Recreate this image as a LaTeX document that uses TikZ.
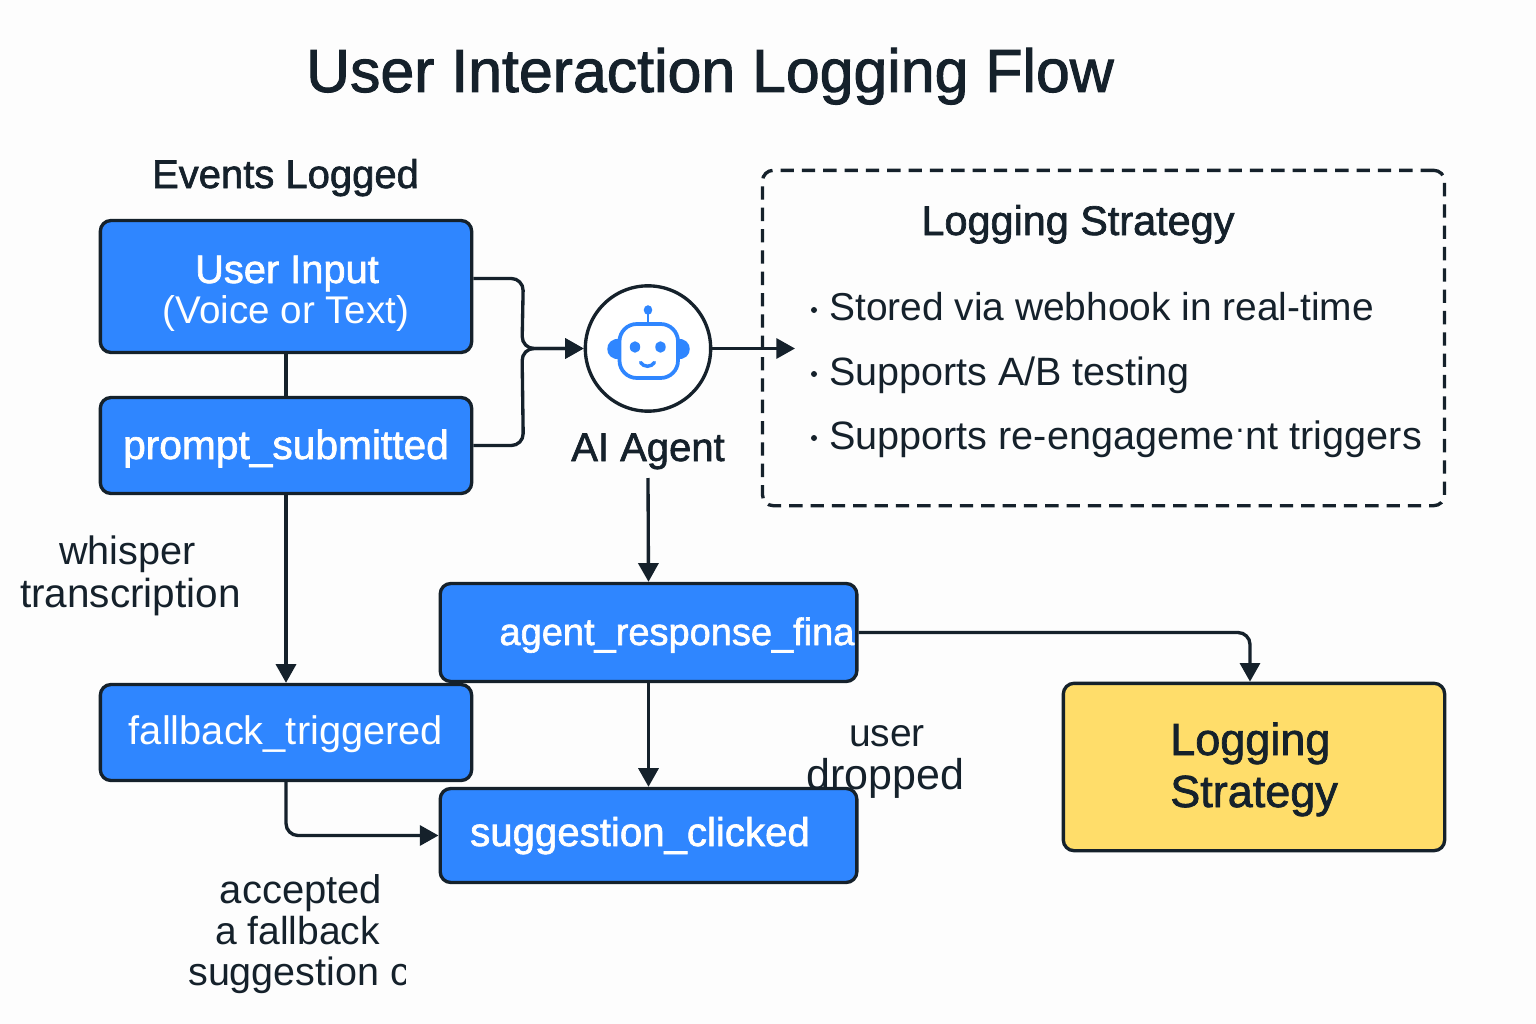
\documentclass[tikz,border=0pt]{standalone}
\usepackage{fontspec}
\setmainfont{Liberation Sans}
\newfontfamily\medfont[FakeBold=1.6]{Liberation Sans}
\usetikzlibrary{arrows.meta,calc,shapes.geometric}
\definecolor{ink}{HTML}{15212B}
\definecolor{boxblue}{HTML}{2F86FF}
\definecolor{boxyellow}{HTML}{FFDD6A}
\definecolor{paper}{HTML}{FDFDFD}
\newcommand{\fs}[1]{\fontsize{\dimexpr#1pt*3/4\relax}{\dimexpr#1pt*3/4\relax}\selectfont}
\tikzset{
  x=0.75pt,y=-0.75pt,
  link/.style={draw=ink,line width=2.5pt,rounded corners=9pt},
  tip/.style={-{Triangle[length=14pt,width=15pt]}},
  bluebox/.style={draw=ink,line width=2.5pt,fill=boxblue,rounded corners=8pt,inner sep=0pt},
  yellowbox/.style={draw=ink,line width=2.5pt,fill=boxyellow,rounded corners=8pt,inner sep=0pt},
  txt/.style={inner sep=0pt,text=ink,anchor=base},
  wtxt/.style={inner sep=0pt,text=white,anchor=base},
  icon/.style={draw=boxblue,line width=2.8pt},
}
\begin{document}
\begin{tikzpicture}
\useasboundingbox (0,0) rectangle (1536,1024);
\fill[paper] (0,0) rectangle (1536,1024);

\node[txt,anchor=base] (title) at (710,92) {\medfont\fs{60.8}User Interaction Logging Flow};
\node[txt] (eventshead) at (285.5,188) {\medfont\fs{40}Events Logged};

% dashed panel
\node[draw=ink,line width=2.5pt,dash pattern=on 10pt off 6pt,rounded corners=8pt,minimum width=511.5pt,minimum height=251.5pt,inner sep=0pt] (panel) at (1103.5,338) {};
\node[txt] (panelhead) at (1078,235) {\medfont\fs{41.4}Logging Strategy};
\node[txt,anchor=base west] (s1) at (829,320) {\fs{38.9}Stored via webhook in real-time};
\node[txt,anchor=base west] (s2) at (829,385) {\fs{39.5}Supports A/B testing};
\node[txt,anchor=base west] (s3) at (829,449) {\fs{39.6}Supports re-engageme\kern1pt\raisebox{0.42em}{\scalebox{0.8}{.}}\kern1pt nt triggers};
\foreach \yy/\nm in {310/d1,374/d2,438/d3}{\node[circle,fill=ink,inner sep=0pt,minimum size=4.5pt] (\nm) at (814,\yy) {};}

% free ends and junction
\coordinate (join) at (522,348.5);
\coordinate (panelpoint) at (795,348.5);

% boxes
\node[bluebox,minimum width=278.5pt,minimum height=99pt] (input) at (286,286.5) {};
\node[wtxt] (inputa) at (287,283) {\medfont\fs{39.8}User Input};
\node[wtxt] (inputb) at (286,323) {\fs{38.6}(Voice or Text)};
\node[bluebox,minimum width=278.5pt,minimum height=72pt] (prompt) at (286,445.5) {};
\node[wtxt] (prompttxt) at (286,459) {\medfont\fs{40.7}prompt\_submitted};
\node[bluebox,minimum width=278.5pt,minimum height=72pt] (fallback) at (286,732.5) {};
\node[wtxt] (fallbacktxt) at (286,744) {\fs{39.8}fallback\_triggered};
\node[bluebox,minimum width=312.5pt,minimum height=73.5pt] (final) at (648.5,632.5) {};
\node[wtxt] (finaltxt) at (677,645) {\medfont\fs{38}agent\_response\_fina};
\node[bluebox,minimum width=312.5pt,minimum height=70.5pt] (clicked) at (648.5,835.5) {};
\node[wtxt] (clickedtxt) at (640,846) {\medfont\fs{40.2}suggestion\_clicked};
\node[yellowbox,minimum width=286pt,minimum height=125.5pt] (yellow) at (1254,767) {};
\node[txt,anchor=base west] (y1) at (1170,755) {\medfont\fs{45}Logging};
\node[txt,anchor=base west] (y2) at (1170,807) {\medfont\fs{45}Strategy};

% agent
\node[circle,draw=ink,line width=2.5pt,fill=white,minimum size=94pt,inner sep=0pt] (agent) at (648,348.5) {};
\node[txt] (agentlabel) at (648,461) {\medfont\fs{40}AI Agent};
\coordinate (agentout) at (648,478);

% robot icon
\fill[boxblue] (620,339) .. controls (603,337) and (603,361) .. (620,359) -- cycle;
\fill[boxblue] (677,339) .. controls (694,337) and (694,361) .. (677,359) -- cycle;
\draw[icon,fill=white,rounded corners=13pt] (619.5,324) rectangle (678,378);
\draw[icon,line width=2.2pt] (648,323) -- (648,312);
\fill[boxblue] (648,310) ellipse[x radius=3.2pt,y radius=3.6pt];
\fill[boxblue] (635,347) ellipse[x radius=3.9pt,y radius=4.3pt];
\fill[boxblue] (660.5,347) ellipse[x radius=3.9pt,y radius=4.3pt];
\draw[icon,line width=2.6pt,line cap=round] (640.5,362.5) .. controls (644,367.5) and (651,367.5) .. (654.5,362.5);

% connectors
\draw[link,tip] ([yshift=6pt]input.east) -- ++(50,0) -- (join) -- (agent.west);
\draw[link,tip] (prompt.east) -- ++(50,0) -- (join) -- (agent.west);
\draw[link,tip] (agent.east) -- (panelpoint);
\draw[link] (input.south) -- (prompt.north);
\draw[link,tip] (prompt.south) -- (fallback.north);
\draw[link,tip] (agentout) -- (final.north);
\draw[link,tip] (final.south) -- (clicked.north);
\draw[link,tip] (fallback.south) |- (clicked.west);
\draw[link,tip] (final.east) -| ([xshift=-3pt]yellow.north);

% labels
\node[txt] (w1) at (127.5,564.5) {\fs{39.6}whisper};
\node[txt] (w2) at (130.5,607) {\fs{40.5}transcription};
\node[txt] (u1) at (887,746) {\fs{39}user};
\node[txt] (u2) at (885.5,789) {\fs{43}dropped};
\node[txt] (a1) at (301,903.5) {\fs{40}accepted};
\node[txt] (a2) at (297.5,944.5) {\fs{39}a fallback};
\begin{scope}
\clip (150,945) rectangle (405,1000);
\node[txt,anchor=base west] (a3) at (188,985.5) {\fs{39.5}suggestion c};
\end{scope}
\end{tikzpicture}
\end{document}
